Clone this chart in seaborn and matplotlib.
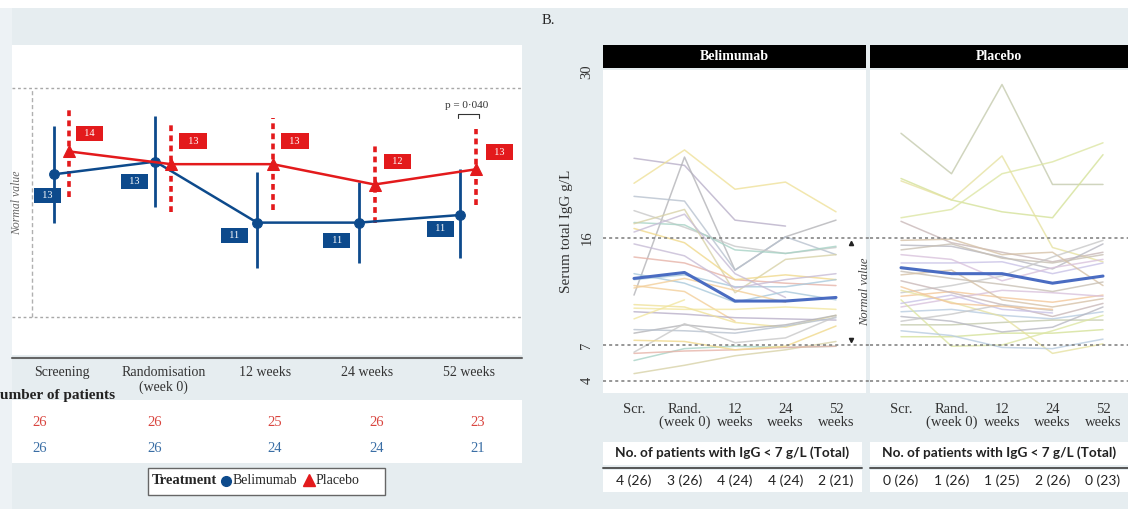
import numpy as np
import pandas as pd
import matplotlib
matplotlib.use("Agg")
import matplotlib.pyplot as plt
import matplotlib.transforms as mtrans
from matplotlib.patches import Rectangle
from matplotlib.lines import Line2D
import seaborn as sns

W, H = 1128, 509
BG = "#e6edf0"
BLUE = "#0d4a8c"
RED = "#e31a1c"

# ---- data ----
groups = ["Belimumab", "Placebo"]
visits_long = ["Screening", "Randomisation\n(week 0)", "12 weeks", "24 weeks", "52 weeks"]
visits_short = ["Scr.", "Rand.\n(week 0)", "12\nweeks", "24\nweeks", "52\nweeks"]

# mean IgG (g/L) with error bar ends, panel A
bel_mean = [12.6, 13.1, 10.7, 10.7, 11.0]
bel_lo = [10.7, 11.3, 8.9, 9.1, 9.3]
bel_hi = [14.5, 14.9, 12.7, 12.3, 12.8]
pla_mean = [13.5, 13.0, 13.0, 12.2, 12.8]
pla_lo = [11.7, 11.1, 11.2, 10.7, 11.4]
pla_hi = [15.3, 14.7, 14.8, 13.7, 14.4]

# number of patients per visit
n_pla = [26, 26, 25, 26, 23]
n_bel = [26, 26, 24, 24, 21]
# patients with IgG < 7 g/L
low_bel = [4, 3, 4, 4, 2]
low_pla = [0, 1, 1, 2, 0]

nan = np.nan
# individual patients, panel B (one list per visit)
bel_scr = [22.7, 20.6, 11.2, 19.5, 18.3, 17.3, 17.2, 14.4, 16.8, 12.5, 16.5, 12.0, 10.1,
           9.8, 10.4, 8.0, 8.3, 6.4, 5.7, 4.6, 6.3, 7.4, 13.0, 15.5, 11.8, 9.2]
bel_rand = [22.1, 23.4, 22.8, 19.1, 16.9, 17.1, 18.4, 13.9, 15.6, 12.9, 18.0, 11.5, 10.0,
            9.6, 10.2, 8.7, 8.2, 8.8, 6.7, 5.3, 6.5, 7.3, 12.2, 14.5, 12.6, 10.8]
bel_w12 = [17.5, 20.1, 13.3, 13.3, 15.3, 15.0, 11.4, 12.5, 12.5, 11.9, 13.0, 9.0, 10.0,
           9.3, 8.9, 8.3, 8.0, 7.2, 6.9, 6.1, 6.6, 6.6, 10.6, 11.8, nan, nan]
bel_w24 = [17.0, 20.7, 16.1, 16.1, 14.7, 14.7, 14.2, 12.2, 12.9, 11.9, 11.0, nan, 10.2,
           9.2, 8.5, 8.7, 8.6, 7.6, 6.8, 6.6, 6.8, 6.9, 11.5, 12.5, 10.6, nan]
bel_w52 = [nan, 18.2, 17.5, 14.6, 15.2, 15.3, 14.6, 12.0, 12.5, 12.5, nan, nan, 10.0,
           9.1, 9.5, 9.5, 9.3, 9.4, 6.9, 7.3, 6.9, 8.6, 10.8, 13.0, nan, nan]

pla_scr = [24.8, 21.0, 17.7, 20.8, 17.4, 15.4, 15.0, 13.9, 15.8, 11.4, 11.1, 10.2, 9.8,
           8.7, 7.7, 10.8, 11.6, 12.4, 9.4, 13.2, 10.5, 12.9, 9.0, 11.9, 14.6, 8.2]
pla_rand = [21.4, 19.2, 18.4, 19.2, 15.6, 15.3, 15.5, 13.9, 15.9, 12.0, 11.5, 10.9, 10.0,
            8.7, 7.7, 6.9, 10.6, 11.4, 9.0, 12.6, 11.2, 13.3, 9.6, 10.5, 14.2, 7.8]
pla_w12 = [28.9, 18.2, 21.4, 22.9, 14.8, 14.4, 14.3, 14.0, 14.6, 12.8, 11.0, 11.6, 9.5,
           8.9, 8.0, 7.0, 9.4, 10.4, 8.1, 12.1, 10.0, 10.8, 10.4, nan, 12.4, 6.8]
pla_w24 = [20.5, 17.7, 22.4, 15.2, 14.0, 13.4, 13.9, 13.0, 14.8, 14.4, 10.6, 11.4, 9.2,
           9.1, 8.0, 8.2, 6.3, 9.4, 8.5, 11.5, 9.7, 10.2, 9.9, 10.0, 13.5, 6.7]
pla_w52 = [20.5, 23.0, 24.0, 14.0, 14.8, 15.5, 14.6, 13.9, 12.0, 15.8, 11.2, 11.1, 9.8,
           9.1, 8.3, 9.5, 7.1, 10.5, 10.2, 12.3, nan, 10.9, nan, nan, 14.2, 7.5]

bel_base = ["#b9b0c9", "#efe19a", "#b4b4b8", "#b8c2cf", "#c9c9c9", "#a8d3c6", "#d8d2a8",
            "#e6b3a8", "#f0d98c", "#a9c9db", "#c7bcd6", "#f3cf9a", "#f2e6a0"]
pla_base = ["#c5cbae", "#d5e29a", "#dde6a4", "#e6e2a2", "#c9b8b8", "#b8b8c2", "#c8c0b4",
            "#c9c2e6", "#d6c2a8", "#c8c8c8", "#f3c79a", "#d9c2dc", "#b8cce0"]


def px_rect(x0, y0, x1, y1):
    return [x0 / W, 1 - y1 / H, (x1 - x0) / W, (y1 - y0) / H]


def fx(x):
    return x / W


def fy(y):
    return 1 - y / H


def long_frame(cols, tag):
    rows = []
    for v, col in enumerate(cols):
        for i, val in enumerate(col):
            if not np.isnan(val):
                rows.append((f"{tag}{i:02d}", v, val))
    return pd.DataFrame(rows, columns=["pid", "visit", "igg"])


def fig_rect(x0, y0, x1, y1, **kw):
    fig.add_artist(Rectangle((fx(x0), fy(y1)), (x1 - x0) / W, (y1 - y0) / H,
                             transform=fig.transFigure, zorder=-1, **kw))


sns.set_style("white")
plt.rcParams["font.family"] = ["Liberation Serif", "DejaVu Serif"]

fig = plt.figure(figsize=(W / 100, H / 100), dpi=100)
fig.patch.set_facecolor(BG)
fig_rect(0, 0, W, 8, fc="white", ec="none")
fig_rect(0, 8, 12, H, fc="#edf2f5", ec="none")

# ================= panel A =================
axL = fig.add_axes(px_rect(12, 45, 522, 355))
axL.set_facecolor("white")
for s in axL.spines.values():
    s.set_visible(False)
axL.set_xlim(-0.49, 4.525)
axL.set_ylim(5.49, 17.69)

for yv in (16, 7):
    axL.axhline(yv, color="#a8a8a8", lw=1, ls=(0, (2, 2)), zorder=1)
axL.plot([-0.295, -0.295], [7, 16], color="#b0b0b0", lw=1, ls=(0, (3, 2)))
axL.text(-0.44, 11.5, "Normal value", rotation=90, style="italic", fontsize=8.5,
         color="#666666", ha="center", va="center")

summ = pd.DataFrame({
    "group": np.repeat(groups, 5),
    "visit": list(range(5)) * 2,
    "mean": bel_mean + pla_mean,
    "lo": bel_lo + pla_lo,
    "hi": bel_hi + pla_hi,
})
dodge = {"Belimumab": -0.08, "Placebo": 0.075}
summ["xpos"] = summ["visit"] + summ["group"].map(dodge)

style = {"Belimumab": dict(color=BLUE, marker="o", ms=7, eb_ls="solid", eb_lw=2.0),
         "Placebo": dict(color=RED, marker="^", ms=9, eb_ls=(0, (1.6, 1.2)), eb_lw=2.6)}
lab_off = {"Belimumab": [(-6, -21), (-21, -20), (-23, -13), (-22, -18), (-20, -14)],
           "Placebo": [(20, 18), (22, 23), (22, 23), (23, 23), (23, 17)]}

for g in groups:
    sub = summ[summ["group"] == g]
    st = style[g]
    axL.vlines(sub["xpos"], sub["lo"], sub["hi"], colors=st["color"], lw=st["eb_lw"],
               linestyles=[st["eb_ls"]], zorder=2)
    sns.lineplot(data=sub, x="xpos", y="mean", color=st["color"], lw=1.8,
                 marker=st["marker"], markersize=st["ms"], markeredgecolor=st["color"],
                 ax=axL, zorder=3)
    for (xp, m), off in zip(zip(sub["xpos"], sub["mean"]), lab_off[g]):
        axL.annotate(f"  {int(round(m))}  ", (xp, m), xytext=off, textcoords="offset pixels",
                     ha="center", va="center", fontsize=7.5, color="white",
                     bbox=dict(boxstyle="square,pad=0.32", fc=st["color"], ec="none"), zorder=4)

# p-value bracket at 52 weeks
axL.text(3.98, 15.3, "p = 0·040", fontsize=8, ha="center", va="center", color="#333333")
axL.plot([3.895, 3.895, 4.1, 4.1], [14.82, 14.98, 14.98, 14.82], color="#333333", lw=0.8)

axL.set_xticks(range(5))
axL.set_xticklabels(visits_long, fontsize=10, color="#333333", linespacing=1.15)
axL.tick_params(axis="x", length=0, pad=8)
axL.set_yticks([])
axL.set_xlabel("")
axL.set_ylabel("")

fig.add_artist(Line2D([fx(12), fx(522)], [fy(358), fy(358)], color="#666666", lw=1.5))
fig_rect(12, 400, 522, 463, fc="white", ec="none")
# the reference crops the start of this label at the figure edge
fig.text(fx(115), fy(395), "Number of patients", fontsize=11, fontweight="bold",
         ha="right", va="center", color="#222222")
num_x = [40, 155, 275, 377, 478]
for xp, a, b in zip(num_x, n_pla, n_bel):
    fig.text(fx(xp), fy(423), str(a), fontsize=10.5, color="#d9453f", ha="center", va="center")
    fig.text(fx(xp), fy(449), str(b), fontsize=10.5, color="#3a6ea5", ha="center", va="center")

# legend box
fig_rect(148, 468, 385, 495, fc="white", ec="#666666", lw=1)
fig.text(fx(152), fy(481), "Treatment", fontsize=10.5, fontweight="bold", ha="left", va="center")
fig.add_artist(Line2D([fx(226)], [fy(481)], marker="o", ms=7, color=BLUE))
fig.text(fx(233), fy(481), "Belimumab", fontsize=10, ha="left", va="center")
fig.add_artist(Line2D([fx(309)], [fy(480)], marker="^", ms=8.5, color=RED))
fig.text(fx(316), fy(481), "Placebo", fontsize=10, ha="left", va="center")

# ================= panel B =================
fig.text(fx(548), fy(20), "B.", fontsize=10.5, ha="center", va="center")

axB = fig.add_axes(px_rect(603, 70, 866, 393))
axP = fig.add_axes(px_rect(870, 70, 1133, 393))
panels = [(axB, "Belimumab", [bel_scr, bel_rand, bel_w12, bel_w24, bel_w52], bel_base, bel_mean, "B"),
          (axP, "Placebo", [pla_scr, pla_rand, pla_w12, pla_w24, pla_w52], pla_base, pla_mean, "P")]

for ax, title, cols, base, mean, tag in panels:
    ax.set_facecolor("white")
    for s in ax.spines.values():
        s.set_visible(False)
    df = long_frame(cols, tag)
    pids = list(dict.fromkeys(df["pid"]))
    pal = {p: base[i % len(base)] for i, p in enumerate(pids)}
    sns.lineplot(data=df, x="visit", y="igg", hue="pid", units="pid", estimator=None,
                 palette=pal, legend=False, lw=1.1, alpha=0.8, ax=ax)
    sns.lineplot(x=list(range(5)), y=mean, color="#4a6cc2", lw=2.2, ax=ax)
    ax.set_xlim(-0.614, 4.594)
    ax.set_ylim(2.97, 30.12)
    for yv in (16, 7, 4):
        ax.plot([0, 1.02], [yv, yv], transform=mtrans.blended_transform_factory(ax.transAxes, ax.transData),
                color="#7a7a7a", lw=1.1, ls=(0, (2, 2)), clip_on=False)
    ax.set_xticks(range(5))
    ax.set_xticklabels(visits_short, fontsize=10.5, color="#333333", linespacing=1.0)
    ax.tick_params(axis="x", length=0, pad=7)
    ax.set_xlabel("")

    strip = fig.add_axes(px_rect(ax.get_position().x0 * W, 45, ax.get_position().x1 * W, 68))
    strip.set_facecolor("black")
    strip.set_xticks([])
    strip.set_yticks([])
    for s in strip.spines.values():
        s.set_visible(False)
    xc = 0.5 if tag == "B" else (999 - 870) / 263
    strip.text(xc, 0.5, title, color="white", fontsize=10, fontweight="bold",
               ha="center", va="center", transform=strip.transAxes)

axB.set_yticks([4, 7, 16, 30])
axB.set_yticklabels(["4", "7", "16", "30"], rotation=90, va="center", fontsize=10.5, color="#333333")
axB.tick_params(axis="y", length=0, pad=7)
axB.set_ylabel("Serum total IgG g/L", fontsize=11, color="#333333", labelpad=5)
axP.set_yticks([])
axP.set_ylabel("")

axB.text(4.58, 11.5, "Normal value", rotation=90, style="italic", fontsize=9,
         color="#444444", ha="center", va="center", clip_on=False)
axB.plot([4.3], [15.6], marker="^", ms=3, color="#222222")
axB.plot([4.3], [7.4], marker="v", ms=3, color="#222222")

# table of patients with IgG < 7 g/L
tab_font = ["Lato", "DejaVu Sans"]
for ax, low, tot in ((axB, low_bel, n_bel), (axP, low_pla, n_pla)):
    x0 = ax.get_position().x0 * W
    x1 = min(ax.get_position().x1 * W, W) - 4 if ax is axB else W
    fig_rect(x0, 442, x1, 465, fc="white", ec="none")
    fig_rect(x0, 470, x1, 492, fc="white", ec="none")
    fig.add_artist(Line2D([fx(x0), fx(x1)], [fy(467.5), fy(467.5)], color="#555555", lw=1.4))
    xc = fx((x0 + min(x1, W)) / 2)
    fig.text(xc, fy(453), "No. of patients with IgG < 7 g/L (Total)", fontsize=9.8,
             fontweight="bold", family=tab_font, ha="center", va="center", color="#222222")
    tr = mtrans.blended_transform_factory(ax.transData, fig.transFigure)
    for i, (a, b) in enumerate(zip(low, tot)):
        fig.text(i, fy(481), f"{a} ({b})", fontsize=10, family=tab_font, transform=tr,
                 ha="center", va="center", color="#222222")

fig.savefig("out.png", dpi=100, facecolor=fig.get_facecolor())
